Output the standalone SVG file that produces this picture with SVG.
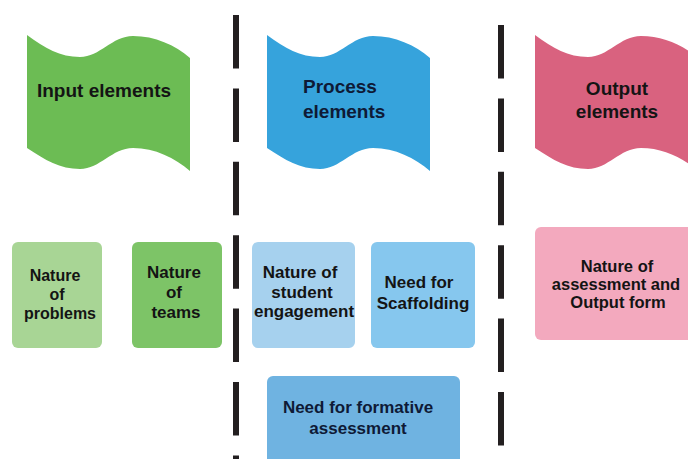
<svg xmlns="http://www.w3.org/2000/svg" xmlns:xlink="http://www.w3.org/1999/xlink" width="688" height="459" viewBox="0 0 688 459">
<style>
.t{font-family:"Liberation Sans",Arial,Helvetica,sans-serif;font-weight:bold;fill:#141414;text-anchor:middle}
.h{font-size:19px}
.b{font-size:17px}
.div{stroke:#231f20;stroke-width:6;stroke-dasharray:53.5 19.9;fill:none}
</style>
<defs>
<path id="flag" d="M27,35 C45,48 60,57 80,57 C100,57 112,36 133,36 C155,36 175,45 190,58 L190,171 C175,158 155,148 133,148 C112,148 100,169 80,169 C60,169 45,160 27,148 Z"/>
</defs>
<rect width="688" height="459" fill="#ffffff"/>
<g id="dividers">
<line class="div" x1="236" y1="15" x2="236" y2="459"/>
<line class="div" x1="501" y1="25" x2="501" y2="446"/>
</g>
<g id="input-elements">
<use xlink:href="#flag" fill="#6cbc54"/>
<text class="t h" x="104" y="97">Input elements</text>
</g>
<g id="process-elements">
<use xlink:href="#flag" transform="translate(240,0)" fill="#36a3dc"/>
<text class="t h" style="text-anchor:start;fill:#0e1a36" x="303" y="93">Process</text>
<text class="t h" style="text-anchor:start;fill:#0e1a36" x="303" y="118">elements</text>
</g>
<g id="output-elements">
<use xlink:href="#flag" transform="translate(508,0)" fill="#d9627f"/>
<text class="t h" x="617" y="95">Output</text>
<text class="t h" x="617" y="118">elements</text>
</g>
<g id="nature-of-problems">
<rect x="12" y="242" width="90" height="106" rx="6" fill="#a8d595"/>
<text class="t" style="font-size:16px" x="55" y="281">Nature</text>
<text class="t" style="font-size:16px" x="57" y="300">of</text>
<text class="t" style="font-size:16px" x="60" y="319">problems</text>
</g>
<g id="nature-of-teams">
<rect x="132" y="242" width="90" height="106" rx="6" fill="#7dc467"/>
<text class="t b" x="174" y="278">Nature</text>
<text class="t b" x="174" y="298">of</text>
<text class="t b" x="176" y="318">teams</text>
</g>
<g id="student-engagement">
<rect x="252" y="242" width="103" height="106" rx="6" fill="#a6d1ee"/>
<text class="t b" x="300" y="278">Nature of</text>
<text class="t b" x="302" y="298">student</text>
<text class="t b" x="304" y="317">engagement</text>
</g>
<g id="need-for-scaffolding">
<rect x="371" y="242" width="104" height="106" rx="6" fill="#86c7ee"/>
<text class="t b" x="419" y="288">Need for</text>
<text class="t b" x="423" y="309">Scaffolding</text>
</g>
<g id="formative-assessment">
<rect x="267" y="376" width="193" height="95" rx="6" fill="#6fb3e1"/>
<text class="t b" style="fill:#0e1a36" x="358" y="413">Need for formative</text>
<text class="t b" style="fill:#0e1a36" x="358" y="434">assessment</text>
</g>
<g id="assessment-output-form">
<rect x="535" y="227" width="165" height="113" rx="6" fill="#f3a9be"/>
<text class="t" style="font-size:16.5px" x="617" y="272">Nature of</text>
<text class="t" style="font-size:16.5px" x="616" y="290">assessment and</text>
<text class="t" style="font-size:16.5px" x="618" y="308">Output form</text>
</g>
</svg>
